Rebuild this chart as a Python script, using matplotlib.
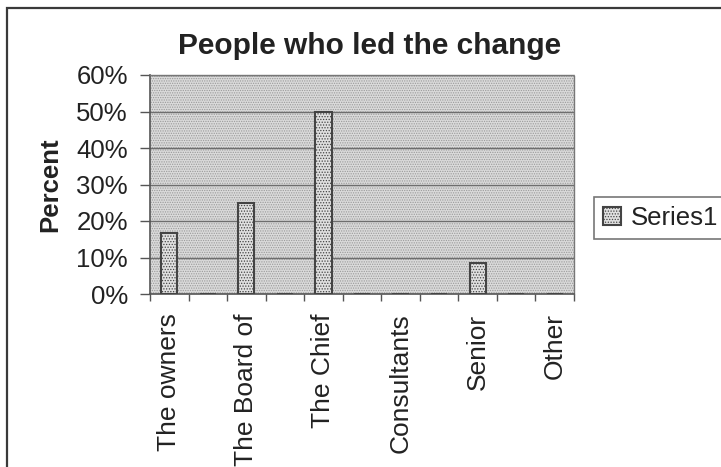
import matplotlib
matplotlib.use("Agg")
import matplotlib.pyplot as plt
from matplotlib.patches import Rectangle
import numpy as np

plt.rcParams['font.family'] = ['Liberation Sans', 'DejaVu Sans']
plt.rcParams['hatch.linewidth'] = 0.6

title = "People who led the change"
ylabel = "Percent"
series_name = "Series1"
categories = ["The owners", "", "The Board of", "", "The Chief", "",
              "Consultants", "", "Senior", "", "Other"]
values = [0.167, 0.0, 0.25, 0.0, 0.50, 0.0, 0.0, 0.0, 0.085, 0.0, 0.0]
yticks = [0.0, 0.1, 0.2, 0.3, 0.4, 0.5, 0.6]
ytick_labels = ["0%", "10%", "20%", "30%", "40%", "50%", "60%"]

W, H = 721, 467
fig = plt.figure(figsize=(W / 100, H / 100), dpi=100)
fig.patch.set_facecolor('white')

# outer frame
fig.patches.append(Rectangle((7 / W, -0.1), 1.2, 1.1 - 8 / H,
                             transform=fig.transFigure, fill=False,
                             edgecolor='#3a3a3a', linewidth=1.6))

ax = fig.add_axes([150 / W, 1 - 294 / H, (574 - 150) / W, (294 - 75) / H])
ax.set_facecolor('#dadada')
ax.patch.set_hatch('.......')
ax.patch.set_edgecolor('#9a9a9a')

x = np.arange(len(categories))
bars = ax.bar(x, values, width=0.42, color='#e0e0e0', edgecolor='#444444',
              linewidth=1.5, hatch='......', label=series_name, zorder=3)

ax.set_xlim(-0.5, len(categories) - 0.5)
ax.set_ylim(0, 0.6)
ax.set_yticks(yticks)
ax.set_yticklabels(ytick_labels, fontsize=18.5, color='#222222')
ax.yaxis.grid(True, color='#6e6e6e', linewidth=1.0, zorder=1)
ax.set_axisbelow(True)
ax.tick_params(axis='y', direction='out', length=7, width=1, color='#555555', pad=9)

ax.set_xticks(x)
ax.set_xticklabels(categories, rotation=90, fontsize=19, color='#222222',
                   va='top', ha='center')
ax.tick_params(axis='x', which='major', length=0, pad=14)
ax.set_xticks(np.arange(-0.5, len(categories), 1.0), minor=True)
ax.tick_params(axis='x', which='minor', direction='out', length=5, width=1, color='#555555')

for s in ['top', 'right']:
    ax.spines[s].set_linestyle((0, (1, 1)))
    ax.spines[s].set_color('#777777')
    ax.spines[s].set_linewidth(1.0)
for s in ['left', 'bottom']:
    ax.spines[s].set_color('#555555')
    ax.spines[s].set_linewidth(1.2)

ax.set_ylabel(ylabel, fontsize=18.5, fontweight='bold', color='#222222')
ax.yaxis.set_label_coords(-0.207, 0.5)

fig.text(370 / W, 1 - 46 / H, title, fontsize=21.5, fontweight='bold',
         ha='center', va='center', color='#222222')

leg = fig.legend(handles=[bars], labels=[series_name], loc='upper left',
                 bbox_to_anchor=(594 / W, 1 - 197 / H), borderaxespad=0,
                 fontsize=18.5, frameon=True, fancybox=False, handlelength=0.72,
                 handleheight=0.72, handletextpad=0.35, borderpad=0.35)
leg.get_frame().set_edgecolor('#555555')
leg.get_frame().set_linewidth(1.2)
for t in leg.get_texts():
    t.set_color('#222222')

fig.savefig("out.png", dpi=100)
